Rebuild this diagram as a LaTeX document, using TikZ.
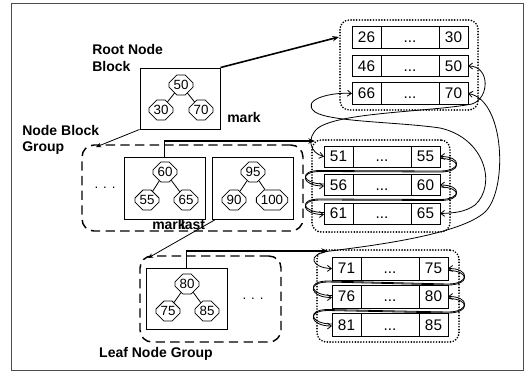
\documentclass[tikz,border=0pt]{standalone}
\usepackage{fontspec}
\setmainfont{Liberation Sans}
\usetikzlibrary{shapes.misc,arrows.meta,calc}

\tikzset{
  lbl/.style={font=\bfseries\fontsize{10.5}{12.5}\selectfont, inner sep=0pt},
  cellS/.style={draw, line width=0.7pt, minimum width=21.75pt, minimum height=16pt,
    inner sep=0pt, outer sep=0pt, fill=white, text height=8.2pt, text depth=0pt,
    font=\fontsize{11.5}{12}\selectfont},
  cellM/.style={cellS, minimum width=43.5pt},
  tnode/.style={draw, line width=0.6pt, chamfered rectangle, chamfered rectangle xsep=2.4pt,
    inner xsep=1pt, inner ysep=0.5pt, minimum width=15.5pt, minimum height=10.5pt, fill=white,
    font=\fontsize{10}{10}\selectfont},
  block/.style={draw, line width=0.7pt, fill=white, inner sep=0pt},
  dotgrp/.style={draw, line width=1.4pt, dash pattern=on 0pt off 2.1pt, line cap=round,
    rounded corners=7pt, inner sep=0pt},
  dashgrp/.style={draw, line width=1.1pt, dash pattern=on 7pt off 4pt, rounded corners=9pt,
    inner sep=0pt},
  tedge/.style={line width=0.6pt},
  ptr/.style={line width=1pt, -{Stealth[length=5pt,width=4pt]}},
  thin ptr/.style={line width=0.6pt, -{Stealth[length=4pt,width=3.5pt]}},
  link/.style={line width=0.6pt, -{Straight Barb[length=3pt,width=4.5pt]}},
  biglink/.style={line width=0.6pt, {Straight Barb[length=3pt,width=4.5pt]}-{Straight Barb[length=3pt,width=4.5pt]}},
}

% one row of three cells: name, left-centre point, first key, last key, height
\newcommand\cellrow[5]{%
  \node[cellS, minimum height=#5, anchor=west] (#1a) at (#2) {#3};
  \node[cellM, minimum height=#5, anchor=west] (#1m) at (#1a.east) {...};
  \node[cellS, minimum height=#5, anchor=west] (#1b) at (#1m.east) {#4};
}

% forward and backward pointers between the end of one row and the start of the next
\newcommand\linkpair[2]{%
  \draw[link] ($(#1.east)+(0,2)$) .. controls +(22,0) and +(22,0) .. ($(#1.south east)+(0,5)$)
     -- ($(#2.north west)+(-4,-3)$) .. controls +(-22,0) and +(-22,0) .. ($(#2.west)+(0,1)$);
  \draw[link] ($(#2.west)+(0,-1)$) .. controls +(-22,0) and +(-22,0) .. ($(#2.north west)+(-4,-4)$)
     -- ($(#1.south east)+(0,4)$) .. controls +(22,0) and +(22,0) .. ($(#1.east)+(0,0)$);
}

\begin{document}
\begin{tikzpicture}[x=0.75pt,y=-0.75pt]
\useasboundingbox (0,0) rectangle (530,372);
\draw[line width=0.6pt, black!70] (11,3) rectangle (523,370);

% labels
\node[lbl, anchor=west, align=left] (lroot) at (92,58) {Root Node\\Block};
\node[lbl, anchor=west, align=left] (lnbg) at (22,140) {Node Block\\Group};
\node[lbl] (lleaf) at (156,354) {Leaf Node Group};
\node[lbl] (lmark) at (244,117) {mark};
\node[lbl] (lmarkb) at (169,224) {mark};
\node[lbl] (llast) at (193,224) {last};

% groups
\node[dotgrp, minimum width=103.5pt, minimum height=67.5pt] (grp1) at (409,65) {};
\node[dotgrp, minimum width=103.5pt, minimum height=69pt] (grp2) at (381,186) {};
\node[dotgrp, minimum width=106.5pt, minimum height=69pt] (grp3) at (388,296) {};
\node[dashgrp, minimum width=165.75pt, minimum height=64.5pt] (nbg) at (192.5,188) {};
\node[dashgrp, minimum width=105.75pt, minimum height=64.5pt] (lng) at (210.5,299) {};

% root node block
\node[block, minimum width=60pt, minimum height=45.75pt] (root) at (180,98.5) {};
\node[tnode] (n50) at (181,85) {50};
\node[tnode] (n30) at (161,110) {30};
\node[tnode] (n70) at (201,110) {70};
\draw[tedge] (n50) -- (n30) (n50) -- (n70);

% node block group
\node[font=\fontsize{10}{10}\selectfont] (dotsa) at (105,188) {. . .};
\node[block, minimum width=60.75pt, minimum height=46.5pt] (box1) at (164.5,188) {};
\node[tnode] (n60) at (165,172) {60};
\node[tnode] (n55) at (147,200) {55};
\node[tnode] (n65) at (186,200) {65};
\draw[tedge] (n60) -- (n55) (n60) -- (n65);
\node[block, minimum width=60.75pt, minimum height=46.5pt] (box2) at (252.5,188) {};
\node[tnode] (n95) at (253,172) {95};
\node[tnode] (n90) at (234,200) {90};
\node[tnode] (n100) at (272,200) {100};
\draw[tedge] (n95) -- (n90) (n95) -- (n100);

% leaf node group
\node[block, minimum width=60.75pt, minimum height=45.75pt] (leaf) at (186.5,298.5) {};
\node[tnode] (n80) at (187,284) {80};
\node[tnode] (n75) at (168,311) {75};
\node[tnode] (n85) at (207,311) {85};
\draw[tedge] (n80) -- (n75) (n80) -- (n85);
\node[font=\fontsize{10}{10}\selectfont] (dotsb) at (253,299) {. . .};

% rows of keys
\cellrow{ga}{352,37.5}{26}{30}{16pt}
\cellrow{gb}{352,66}{46}{50}{16pt}
\cellrow{gc}{352,93.5}{66}{70}{16pt}
\cellrow{ha}{324,156.5}{51}{55}{15.75pt}
\cellrow{hb}{324,185}{56}{60}{15.75pt}
\cellrow{hc}{324,213.5}{61}{65}{15.75pt}
\cellrow{ka}{332,268.5}{71}{75}{17.25pt}
\cellrow{kb}{332,296.5}{76}{80}{17.25pt}
\cellrow{kc}{332,325}{81}{85}{17.25pt}

% entry points
\coordinate (g1in) at (339,37);
\coordinate (g2in) at (315,141);
\coordinate (g3in) at (328,251);
\coordinate (nbgin) at (96,147);
\coordinate (lngin) at (148,258);

% block pointers
\draw[ptr, line width=1.2pt] (root.north east) -- (g1in);
\draw[thin ptr] (root.south west) -- (nbgin);
\draw[ptr] (box1.north) |- (g2in);
\draw[thin ptr] ($(box2.south west)+(4,0)$) -- (lngin);
\draw[ptr] (leaf.north) |- (g3in);

% sibling links inside the groups
\linkpair{hab}{hba}
\linkpair{hbb}{hca}
\linkpair{kab}{kba}
\linkpair{kbb}{kca}

% links between groups
\draw[biglink] (gbb.east) .. controls (490,66) and (490,98) .. (472,104)
   .. controls (430,112) and (340,112) .. (318,128)
   .. controls (306,138) and (310,153) .. (haa.west);
\draw[biglink] (gca.west) .. controls (330,92) and (300,100) .. (315,112)
   .. controls (330,122) and (400,122) .. (440,128)
   .. controls (485,138) and (497,185) .. (475,205)
   .. controls (465,212) and (455,213) .. (hcb.east);
\draw[biglink] (gcb.east) .. controls (505,100) and (508,190) .. (485,212)
   .. controls (460,235) and (370,246) .. (330,251)
   .. controls (305,254) and (312,268) .. (kaa.west);
\end{tikzpicture}
\end{document}
